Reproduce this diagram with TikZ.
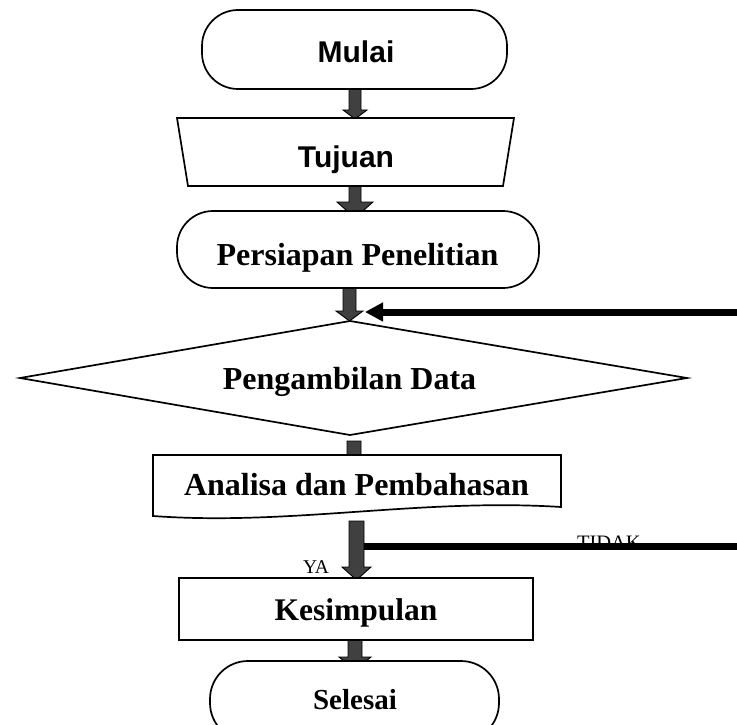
\documentclass[tikz,border=0pt]{standalone}
\usepackage{fontspec}
\setmainfont{Liberation Serif}
\newfontfamily\arialfont{Liberation Sans}
\usetikzlibrary{calc,arrows.meta}
\definecolor{arrgray}{HTML}{404040}
\newcommand\grayarrow[5]{%
  \path[garrow] let \p1=(#1), \p2=(#2) in
    (\x2-#3,\y1) -- (\x2-#3,\y2+#5) -- (\x2-#4,\y2+#5) -- (\x2,\y2)
    -- (\x2+#4,\y2+#5) -- (\x2+#3,\y2+#5) -- (\x2+#3,\y1) -- cycle;}
\begin{document}
\begin{tikzpicture}[x=1pt,y=-1pt,
  boxshape/.style={draw=black,line width=1.7pt,fill=white},
  lbl/.style={anchor=base,inner sep=0pt,outer sep=0pt},
  garrow/.style={draw=black,line width=0.9pt,fill=arrgray,line join=miter},
  thickline/.style={line width=7pt,draw=black},
  sansbig/.style={font=\arialfont\bfseries\fontsize{30pt}{36pt}\selectfont},
  serifbig/.style={font=\bfseries\fontsize{32pt}{38pt}\selectfont},
  smalltxt/.style={font=\fontsize{19.5pt}{23pt}\selectfont}]
\useasboundingbox (0,0) rectangle (737,725);
\begin{scope}
\clip (0,0) rectangle (737,725);
\fill[white] (0,0) rectangle (737,725);

% connector end points
\coordinate (mulai-s) at (355,89);
\coordinate (tujuan-n) at (355,119);
\coordinate (tujuan-s) at (355,186);
\coordinate (pers-n) at (355,218);
\coordinate (pers-s) at (349.5,288);
\coordinate (diam-n) at (349.5,321);
\coordinate (diam-s) at (354,441);
\coordinate (anal-n) at (354,470);
\coordinate (anal-s) at (356.5,521);
\coordinate (kes-n) at (356.5,580);
\coordinate (kes-s) at (355,640);
\coordinate (sel-n) at (355,670);
\coordinate (fb-start) at (745,312);
\coordinate (fb-tip) at (365,312);
\coordinate (no-start) at (364,546);
\coordinate (no-end) at (745,546);

% gray block arrows
\grayarrow{mulai-s}{tujuan-n}{6pt}{12pt}{9pt}
\grayarrow{tujuan-s}{pers-n}{6pt}{18pt}{16pt}
\grayarrow{pers-s}{diam-n}{6.5pt}{13.5pt}{10pt}
\grayarrow{diam-s}{anal-n}{7pt}{14pt}{10pt}
\grayarrow{anal-s}{kes-n}{7.5pt}{14.5pt}{13pt}
\grayarrow{kes-s}{sel-n}{7pt}{16pt}{13pt}

% shapes
\node[boxshape,rounded corners=36pt,minimum width=305pt,minimum height=79pt,inner sep=0pt]
  (mulai) at (354.5,49.5) {};
\draw[boxshape] (177,118) -- (514,118) -- (503,186) -- (188,186) -- cycle;
\node[boxshape,rounded corners=36pt,minimum width=362pt,minimum height=77pt,inner sep=0pt]
  (pers) at (358,249.5) {};
\draw[boxshape] (20,378) -- (350,321) -- (687,378) -- (350,435) -- cycle;
\draw[boxshape] (153,455) -- (561,455) -- (561,507)
  .. controls (420,498) and (290,526) .. (153,516) -- cycle;
\node[boxshape,minimum width=354pt,minimum height=62pt,inner sep=0pt]
  (kes) at (356,609) {};
\node[boxshape,rounded corners=38pt,minimum width=289pt,minimum height=80pt,inner sep=0pt]
  (sel) at (354.5,701) {};

% texts
\node[lbl,sansbig] (t-mulai) at (356,63) {Mulai};
\node[lbl,sansbig] (t-tujuan) at (346,167) {Tujuan};
\node[lbl,serifbig] (t-pers) at (357.5,265) {Persiapan Penelitian};
\node[lbl,serifbig] (t-data) at (349.5,389) {Pengambilan Data};
\node[lbl,serifbig] (t-anal) at (356.5,495) {Analisa dan Pembahasan};
\node[lbl,font=\bfseries\fontsize{31.5pt}{38pt}\selectfont] (t-kes) at (356,620) {Kesimpulan};
\node[lbl,font=\bfseries\fontsize{29pt}{35pt}\selectfont] (t-sel) at (355,709) {Selesai};
\node[lbl,smalltxt,anchor=base west] (t-ya) at (303,573) {YA};
\node[lbl,font=\fontsize{20.5pt}{24pt}\selectfont,anchor=base west] (t-tidak) at (577,549) {TIDAK};

% black lines
\draw[thickline,-{Triangle[length=18pt,width=18pt]}] (fb-start) -- (fb-tip);
\draw[thickline] (no-start) -- (no-end);
\end{scope}
\end{tikzpicture}
\end{document}
